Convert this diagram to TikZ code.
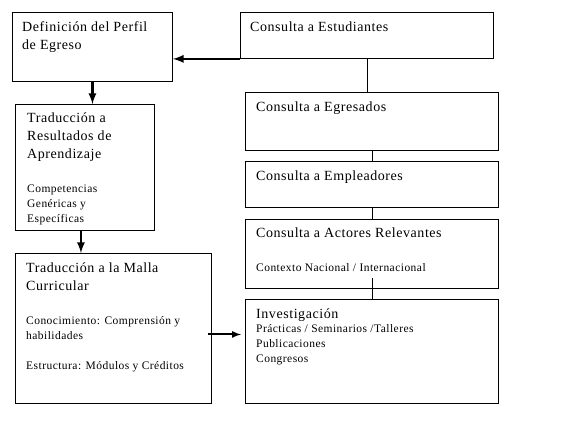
\documentclass[tikz,border=0pt]{standalone}
\usepackage{fontspec}
\setmainfont[LetterSpace=4]{Liberation Serif}
\usetikzlibrary{positioning}

\newcommand{\ttltxt}{\fontsize{14}{18}\selectfont}
\newcommand{\subtxt}{\fontsize{11.5}{14}\selectfont}

\tikzstyle{box} = [draw,line width=0.9pt,rectangle,anchor=north west,inner sep=0pt]
\tikzstyle{boxtext} = [anchor=north west,align=left,inner sep=0pt,font=\ttltxt]
\tikzstyle{link} = [draw,line width=0.9pt,-]
\tikzstyle{arrowdecorate} = [->,>=latex,line width=2.6pt]
\tikzstyle{thinarrow} = [->,>=latex,line width=2pt]

\begin{document}
\begin{tikzpicture}[x=1pt,y=-1pt]
      \useasboundingbox[fill=white] (0,0) rectangle (580,444);
      %boxes
      \node[box, minimum width=160pt, minimum height=69pt] (perfil) at (12,12) {};
      \node[box, minimum width=139pt, minimum height=126pt] (resultados) at (15,104) {};
      \node[box, minimum width=196pt, minimum height=150pt] (malla) at (15,253) {};
      \node[box, minimum width=253pt, minimum height=46pt] (estudiantes) at (240,12) {};
      \node[box, minimum width=253pt, minimum height=58pt] (egresados) at (245,92) {};
      \node[box, minimum width=253pt, minimum height=46pt] (empleadores) at (245,161) {};
      \node[box, minimum width=253pt, minimum height=69pt] (actores) at (245,219) {};
      \node[box, minimum width=253pt, minimum height=104pt] (investigacion) at (245,299) {};

      %texts
      \node[boxtext] at ([xshift=10pt,yshift=-9pt]perfil.north west)
        {Definición del Perfil\\de Egreso};
      \node[boxtext] at ([xshift=12pt,yshift=-9pt]resultados.north west)
        {Traducción a\\Resultados de\\Aprendizaje\\[16pt]
         {\subtxt Competencias}\\[-3pt]{\subtxt Genéricas y}\\[-3pt]{\subtxt Específicas}};
      \node[boxtext] at ([xshift=11pt,yshift=-10pt]malla.north west)
        {Traducción a la Malla\\Curricular\\[16pt]
         {\subtxt Conocimiento: Comprensión y}\\[-3pt]{\subtxt habilidades}\\[12pt]
         {\subtxt Estructura: Módulos y Créditos}};
      \node[boxtext] at ([xshift=10pt,yshift=-10pt]estudiantes.north west)
        {Consulta a Estudiantes};
      \node[boxtext] at ([xshift=11pt,yshift=-10pt]egresados.north west)
        {Consulta a Egresados};
      \node[boxtext] at ([xshift=11pt,yshift=-10pt]empleadores.north west)
        {Consulta a Empleadores};
      \node[boxtext] at ([xshift=11pt,yshift=-9pt]actores.north west)
        {Consulta a Actores Relevantes\\[16pt]{\subtxt Contexto Nacional / Internacional}};
      \node[boxtext] at ([xshift=11pt,yshift=-10pt]investigacion.north west)
        {Investigación\\[-4pt]{\subtxt Prácticas / Seminarios /Talleres}\\[-3pt]
         {\subtxt Publicaciones}\\[-3pt]{\subtxt Congresos}};

      %links
      \path
      \foreach \startnode/\endnode in {egresados/empleadores, empleadores/actores}
      {
        (\startnode.south) edge[link] (\startnode.south |- \endnode.north)
      };
      \draw[link] (estudiantes.south) -- (estudiantes.south |- egresados.north);
      \draw[link] ([yshift=11pt]actores.south) -- (investigacion.north);

      %arrows
      \draw[arrowdecorate] (estudiantes.south west) -- (estudiantes.south west -| perfil.east);
      \draw[arrowdecorate] (perfil.south) -- (perfil.south |- resultados.north);
      \draw[arrowdecorate] ([xshift=-4pt]resultados.south) -- ([xshift=-4pt]resultados.south |- malla.north);
      \draw[thinarrow] ([xshift=-4pt,yshift=-6pt]malla.east) -- ([xshift=-4pt,yshift=-6pt]malla.east -| investigacion.west);
\end{tikzpicture}
\end{document}
